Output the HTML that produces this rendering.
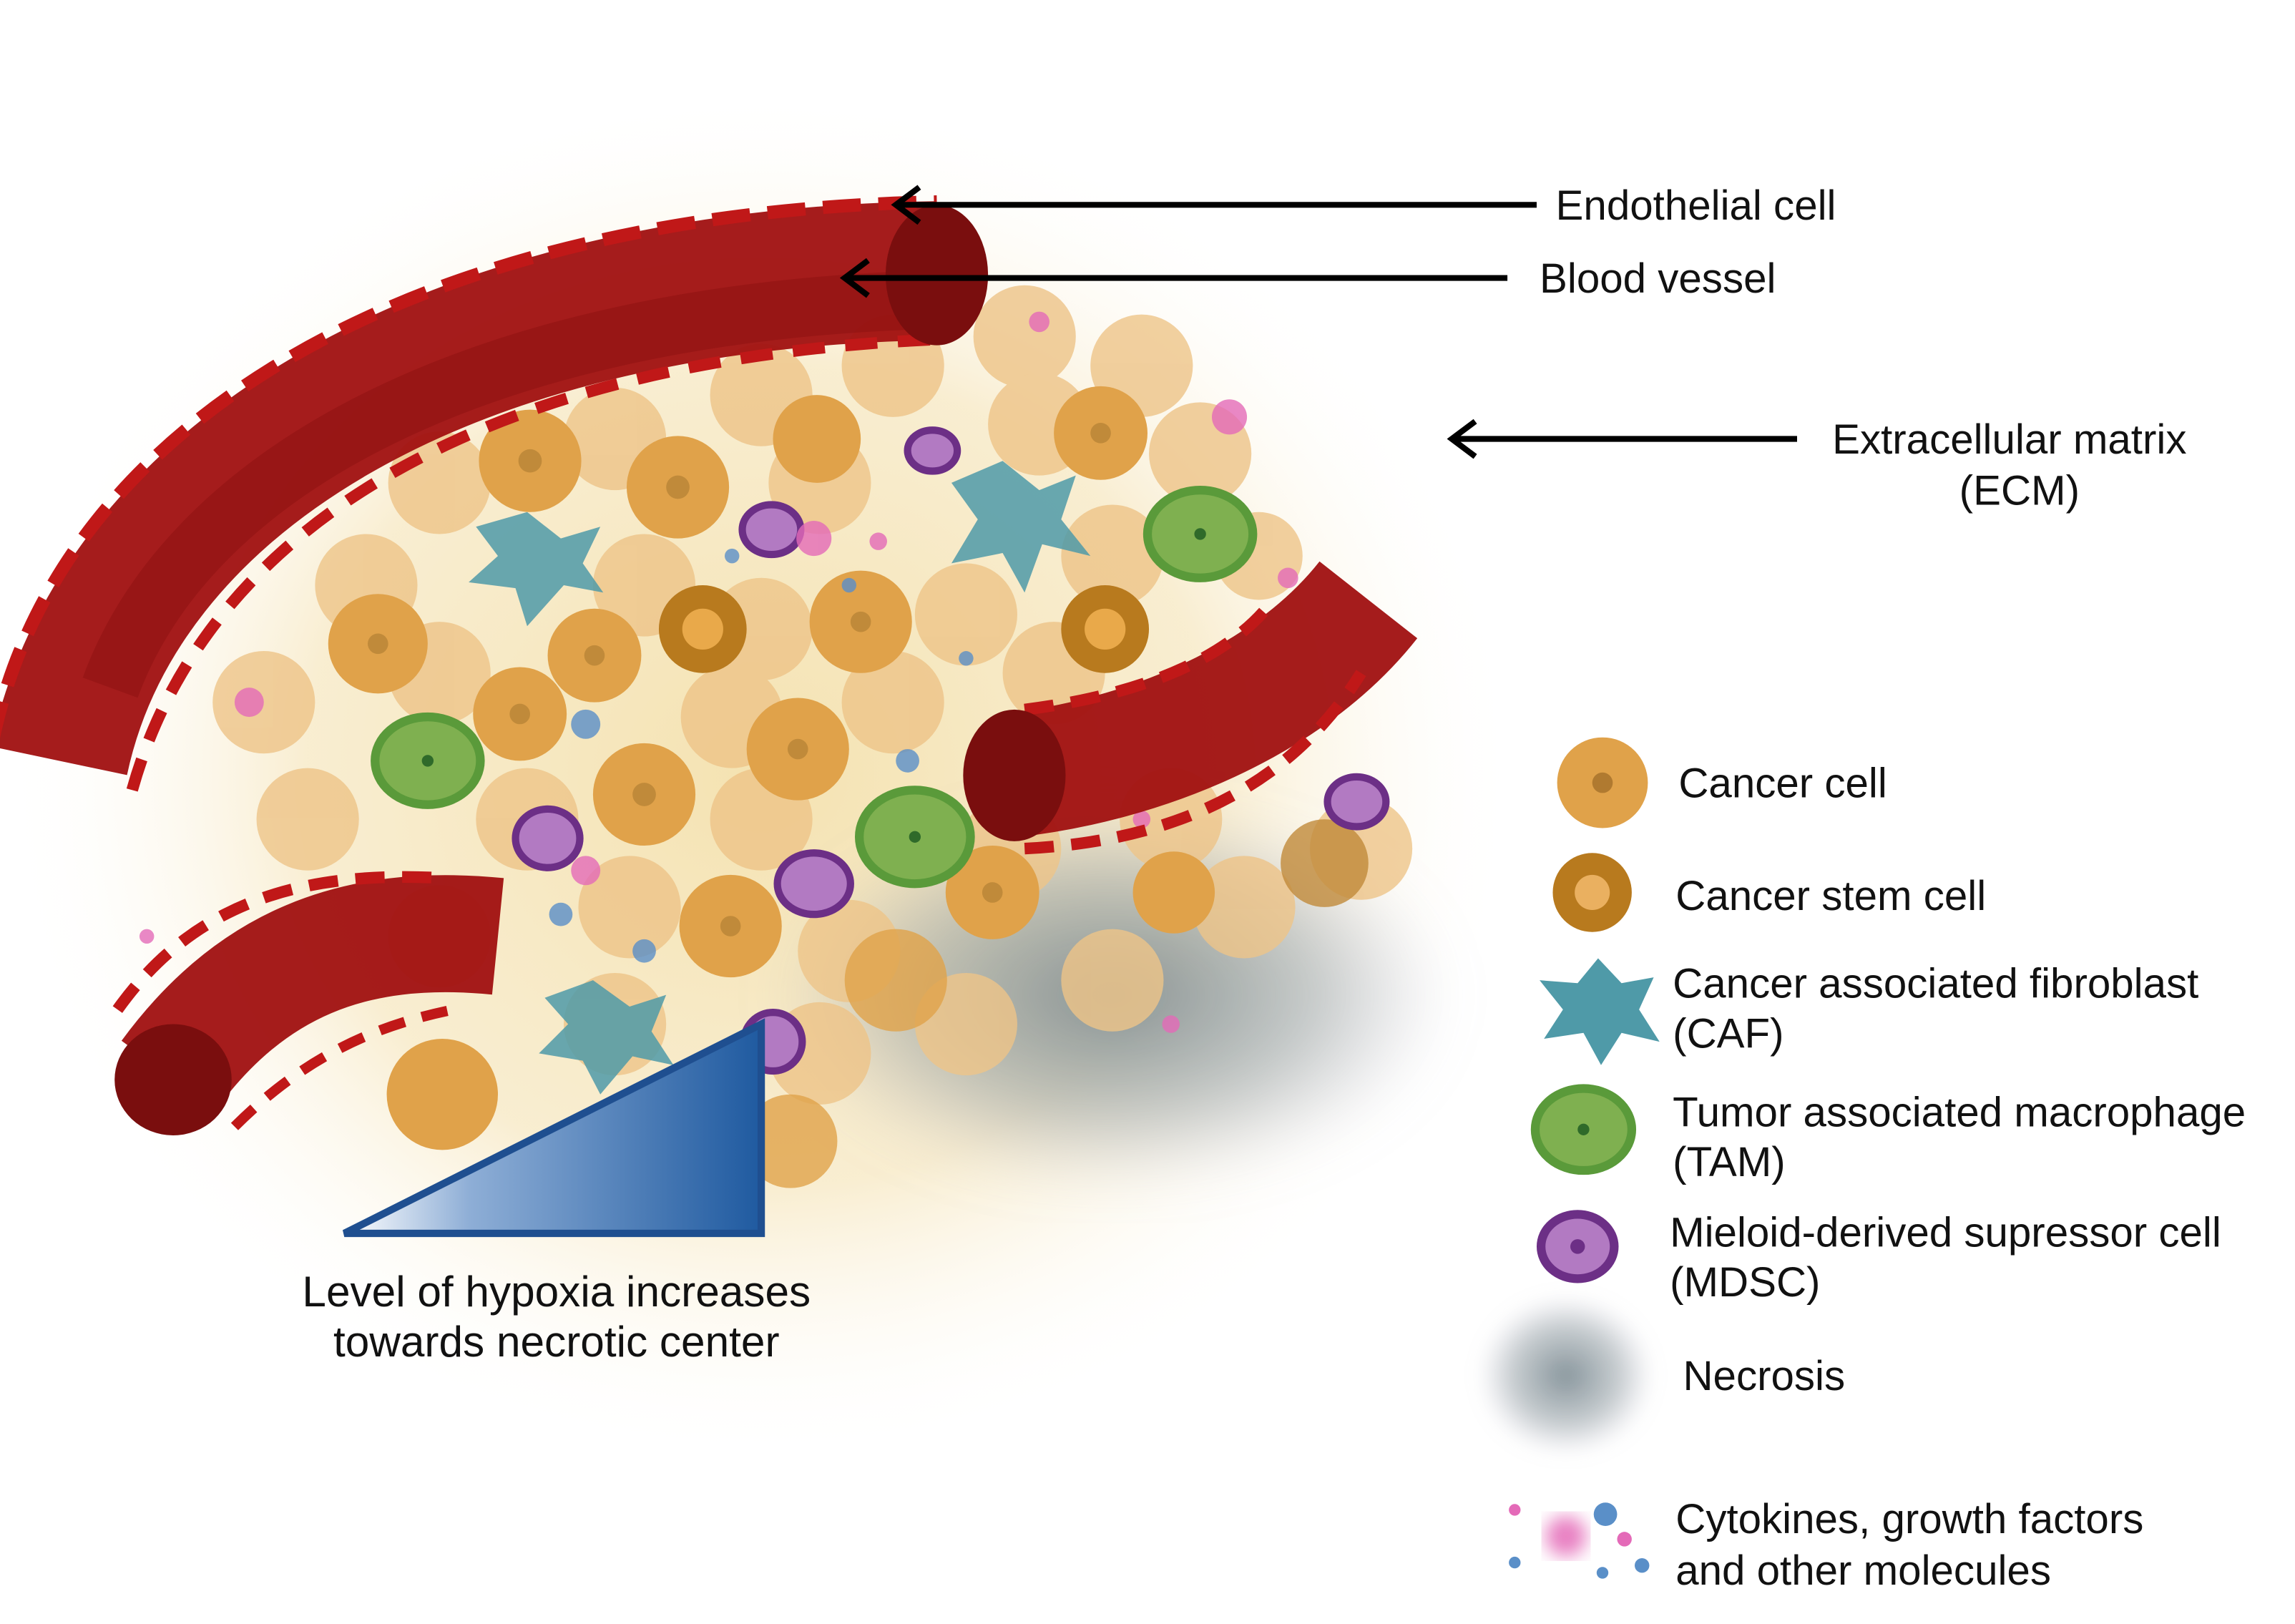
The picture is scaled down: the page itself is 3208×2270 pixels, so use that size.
<!DOCTYPE html>
<html><head><meta charset="utf-8"><style>
html,body{margin:0;padding:0;background:#fff;}
svg{display:block;}
text{font-family:"Liberation Sans",Arial,sans-serif;fill:#111;}
</style></head><body>
<svg width="3208" height="2270" viewBox="0 0 1568 1110" xmlns="http://www.w3.org/2000/svg">
<defs>
<radialGradient id="ecm" cx="50%" cy="50%" r="50%">
<stop offset="0" stop-color="#f3dfa8" stop-opacity="0.9"/>
<stop offset="0.6" stop-color="#f6e6bd" stop-opacity="0.7"/>
<stop offset="1" stop-color="#fff" stop-opacity="0"/>
</radialGradient>
<radialGradient id="nec" cx="50%" cy="50%" r="50%">
<stop offset="0" stop-color="#6f7f88" stop-opacity="0.85"/>
<stop offset="0.6" stop-color="#8c989e" stop-opacity="0.5"/>
<stop offset="1" stop-color="#aab" stop-opacity="0"/>
</radialGradient>
<linearGradient id="tri" x1="0" x2="1" y1="0" y2="0">
<stop offset="0" stop-color="#ffffff"/>
<stop offset="0.3" stop-color="#8eaed6"/>
<stop offset="1" stop-color="#1f5aa0"/>
</linearGradient>
<filter id="blur"><feGaussianBlur stdDeviation="6"/></filter>
<filter id="blur2"><feGaussianBlur stdDeviation="18"/></filter>
</defs>

<ellipse cx="520" cy="530" rx="520" ry="470" fill="url(#ecm)"/>
<ellipse cx="760" cy="680" rx="230" ry="130" fill="url(#nec)" filter="url(#blur2)"/>

<g stroke="none">
<g fill="#eec488" opacity="0.8">
<circle cx="520" cy="270" r="35"/><circle cx="610" cy="250" r="35"/><circle cx="700" cy="230" r="35"/><circle cx="780" cy="250" r="35"/>
<circle cx="300" cy="330" r="35"/><circle cx="420" cy="300" r="35"/><circle cx="560" cy="330" r="35"/><circle cx="710" cy="290" r="35"/><circle cx="820" cy="310" r="35"/>
<circle cx="250" cy="400" r="35"/><circle cx="440" cy="400" r="35"/><circle cx="520" cy="430" r="35"/><circle cx="660" cy="420" r="35"/><circle cx="760" cy="380" r="35"/><circle cx="860" cy="380" r="30"/>
<circle cx="180" cy="480" r="35"/><circle cx="300" cy="460" r="35"/><circle cx="500" cy="490" r="35"/><circle cx="610" cy="480" r="35"/><circle cx="720" cy="460" r="35"/>
<circle cx="210" cy="560" r="35"/><circle cx="360" cy="560" r="35"/><circle cx="520" cy="560" r="35"/><circle cx="690" cy="580" r="35"/><circle cx="800" cy="560" r="35"/><circle cx="930" cy="580" r="35"/>
<circle cx="300" cy="640" r="35"/><circle cx="430" cy="620" r="35"/><circle cx="580" cy="650" r="35"/><circle cx="760" cy="670" r="35"/><circle cx="850" cy="620" r="35"/>
<circle cx="420" cy="700" r="35"/><circle cx="560" cy="720" r="35"/><circle cx="660" cy="700" r="35"/>
</g>
<g fill="#e0a24a">
<circle cx="362" cy="315" r="35"/><circle cx="463" cy="333" r="35"/><circle cx="558" cy="300" r="30"/><circle cx="752" cy="296" r="32"/>
<circle cx="258" cy="440" r="34"/><circle cx="406" cy="448" r="32"/><circle cx="588" cy="425" r="35"/>
<circle cx="355" cy="488" r="32"/><circle cx="440" cy="543" r="35"/><circle cx="545" cy="512" r="35"/>
<circle cx="499" cy="633" r="35"/><circle cx="302" cy="748" r="38"/><circle cx="678" cy="610" r="32"/><circle cx="802" cy="610" r="28"/>
<circle cx="612" cy="670" r="35" opacity="0.8"/><circle cx="540" cy="780" r="32" opacity="0.8"/>
</g>
<g fill="#c08a3a"><circle cx="362" cy="315" r="8"/><circle cx="463" cy="333" r="8"/><circle cx="258" cy="440" r="7"/><circle cx="406" cy="448" r="7"/><circle cx="588" cy="425" r="7"/><circle cx="355" cy="488" r="7"/><circle cx="440" cy="543" r="8"/><circle cx="545" cy="512" r="7"/><circle cx="499" cy="633" r="7"/><circle cx="752" cy="296" r="7"/><circle cx="678" cy="610" r="7"/></g>
<g><circle cx="480" cy="430" r="30" fill="#b87a1e"/><circle cx="480" cy="430" r="14" fill="#e9a94a"/>
<circle cx="755" cy="430" r="30" fill="#b87a1e"/><circle cx="755" cy="430" r="14" fill="#e9a94a"/>
<circle cx="905" cy="590" r="30" fill="#c08a3a" opacity="0.8"/></g>
<g fill="#7fb050" stroke="#5a9a3a" stroke-width="6">
<ellipse cx="820" cy="365" rx="36" ry="30"/><ellipse cx="292" cy="520" rx="36" ry="30"/><ellipse cx="625" cy="572" rx="38" ry="32"/></g>
<g fill="#2f6a2a"><circle cx="820" cy="365" r="4"/><circle cx="292" cy="520" r="4"/><circle cx="625" cy="572" r="4"/></g>
<g fill="#b27ac2" stroke="#6c2f86" stroke-width="5">
<ellipse cx="527" cy="362" rx="20" ry="17"/><ellipse cx="637" cy="308" rx="17" ry="14"/><ellipse cx="374" cy="573" rx="22" ry="20"/><ellipse cx="556" cy="604" rx="25" ry="21"/><ellipse cx="927" cy="548" rx="20" ry="17"/><ellipse cx="528" cy="712" rx="20" ry="20"/></g>
<g fill="#4f9aa8" opacity="0.85">
<polygon points="360,350 383,368 410,360 398,385 412,405 385,400 360,428 352,402 320,398 340,380 325,360"/>
<polygon points="685,315 710,335 735,325 725,355 745,380 712,372 700,405 685,378 650,385 668,355 650,330"/>
<polygon points="405,670 430,688 455,680 445,705 460,728 432,722 410,748 398,725 368,720 388,700 372,682"/>
</g>
<g fill="#e46ab8" opacity="0.8"><circle cx="556" cy="368" r="12"/><circle cx="840" cy="285" r="12"/><circle cx="170" cy="480" r="10"/><circle cx="400" cy="595" r="10"/><circle cx="600" cy="370" r="6"/><circle cx="710" cy="220" r="7"/><circle cx="780" cy="560" r="6"/><circle cx="880" cy="395" r="7"/><circle cx="100" cy="640" r="5"/><circle cx="800" cy="700" r="6"/></g>
<g fill="#5a8fc8" opacity="0.8"><circle cx="400" cy="495" r="10"/><circle cx="620" cy="520" r="8"/><circle cx="383" cy="625" r="8"/><circle cx="440" cy="650" r="8"/><circle cx="500" cy="380" r="5"/><circle cx="580" cy="400" r="5"/><circle cx="660" cy="450" r="5"/></g>
</g>

<path d="M40,520 C80,330 300,190 640,185" fill="none" stroke="#a01010" stroke-width="95" opacity="0.95"/>
<path d="M75,470 C130,320 330,215 630,205" fill="none" stroke="#8c1010" stroke-width="40" opacity="0.5"/>
<path d="M90,540 C140,360 330,245 640,232" fill="none" stroke="#c01818" stroke-width="8" stroke-dasharray="22 14"/>
<path d="M-5,505 C40,290 280,145 640,138" fill="none" stroke="#c01818" stroke-width="9" stroke-dasharray="26 12"/>
<ellipse cx="640" cy="188" rx="35" ry="48" fill="#7a0e0e"/>
<path d="M690,530 C780,520 880,480 935,410" fill="none" stroke="#a01010" stroke-width="85" opacity="0.95"/>
<path d="M700,580 C800,575 880,540 930,460" fill="none" stroke="#c01818" stroke-width="8" stroke-dasharray="20 12"/>
<path d="M700,485 C780,475 840,450 870,410" fill="none" stroke="#c01818" stroke-width="8" stroke-dasharray="20 12"/>
<ellipse cx="693" cy="530" rx="35" ry="45" fill="#7a0e0e"/>
<path d="M115,735 C170,660 240,630 340,640" fill="none" stroke="#a01010" stroke-width="80" opacity="0.95"/>
<path d="M80,690 C130,620 200,595 300,600" fill="none" stroke="#c01818" stroke-width="8" stroke-dasharray="20 12"/>
<path d="M160,770 C210,720 260,700 310,690" fill="none" stroke="#c01818" stroke-width="7" stroke-dasharray="18 12"/>
<ellipse cx="118" cy="738" rx="40" ry="38" fill="#7a0e0e"/>

<polygon points="235,843 520,700 520,843" fill="url(#tri)" stroke="#1f4f90" stroke-width="5"/>
<text x="380" y="893" font-size="29.5" text-anchor="middle">Level of hypoxia increases</text>
<text x="380" y="927" font-size="29.5" text-anchor="middle">towards necrotic center</text>

<g stroke="#000" stroke-width="4" fill="none">
<line x1="1050" y1="140" x2="612" y2="140"/><polyline points="628,128 612,140 628,152"/>
<line x1="1030" y1="190" x2="577" y2="190"/><polyline points="593,178 577,190 593,202"/>
<line x1="1228" y1="300" x2="992" y2="300"/><polyline points="1008,288 992,300 1008,312"/>
</g>
<g font-size="28.5">
<text x="1063" y="150">Endothelial cell</text>
<text x="1052" y="200">Blood vessel</text>
<text x="1252" y="310">Extracellular matrix</text>
<text x="1380" y="345" text-anchor="middle">(ECM)</text>
<text x="1147" y="545">Cancer cell</text>
<text x="1145" y="622">Cancer stem cell</text>
<text x="1143" y="682">Cancer associated fibroblast</text>
<text x="1143" y="716">(CAF)</text>
<text x="1143" y="770">Tumor associated macrophage</text>
<text x="1143" y="804">(TAM)</text>
<text x="1141" y="852">Mieloid-derived supressor cell</text>
<text x="1141" y="886">(MDSC)</text>
<text x="1150" y="950">Necrosis</text>
<text x="1145" y="1048">Cytokines, growth factors</text>
<text x="1145" y="1083">and other molecules</text>
</g>

<circle cx="1095" cy="535" r="31" fill="#e0a24a"/><circle cx="1095" cy="535" r="7" fill="#b07a30"/>
<circle cx="1088" cy="610" r="27" fill="#b87a1e"/><circle cx="1088" cy="610" r="12" fill="#eab060"/>
<polygon points="1092,655 1108,672 1130,668 1120,690 1134,712 1108,706 1094,728 1082,706 1055,710 1068,690 1052,670 1078,672" fill="#4f9aa8"/>
<ellipse cx="1082" cy="772" rx="33" ry="28" fill="#7fb050" stroke="#5a9a3a" stroke-width="6"/><circle cx="1082" cy="772" r="4" fill="#2f6a2a"/>
<ellipse cx="1078" cy="852" rx="25" ry="22" fill="#b27ac2" stroke="#6c2f86" stroke-width="6"/><circle cx="1078" cy="852" r="5" fill="#6c2f86"/>
<ellipse cx="1070" cy="940" rx="60" ry="55" fill="url(#nec)" filter="url(#blur)"/>
<circle cx="1070" cy="1050" r="14" fill="#e46ab8" opacity="0.85" filter="url(#blur)"/>
<circle cx="1097" cy="1035" r="8" fill="#5a8fc8"/><circle cx="1035" cy="1032" r="4" fill="#e46ab8"/><circle cx="1110" cy="1052" r="5" fill="#e46ab8"/>
<circle cx="1035" cy="1068" r="4" fill="#5a8fc8"/><circle cx="1095" cy="1075" r="4" fill="#5a8fc8"/><circle cx="1122" cy="1070" r="5" fill="#5a8fc8"/>
</svg>
</body></html>
